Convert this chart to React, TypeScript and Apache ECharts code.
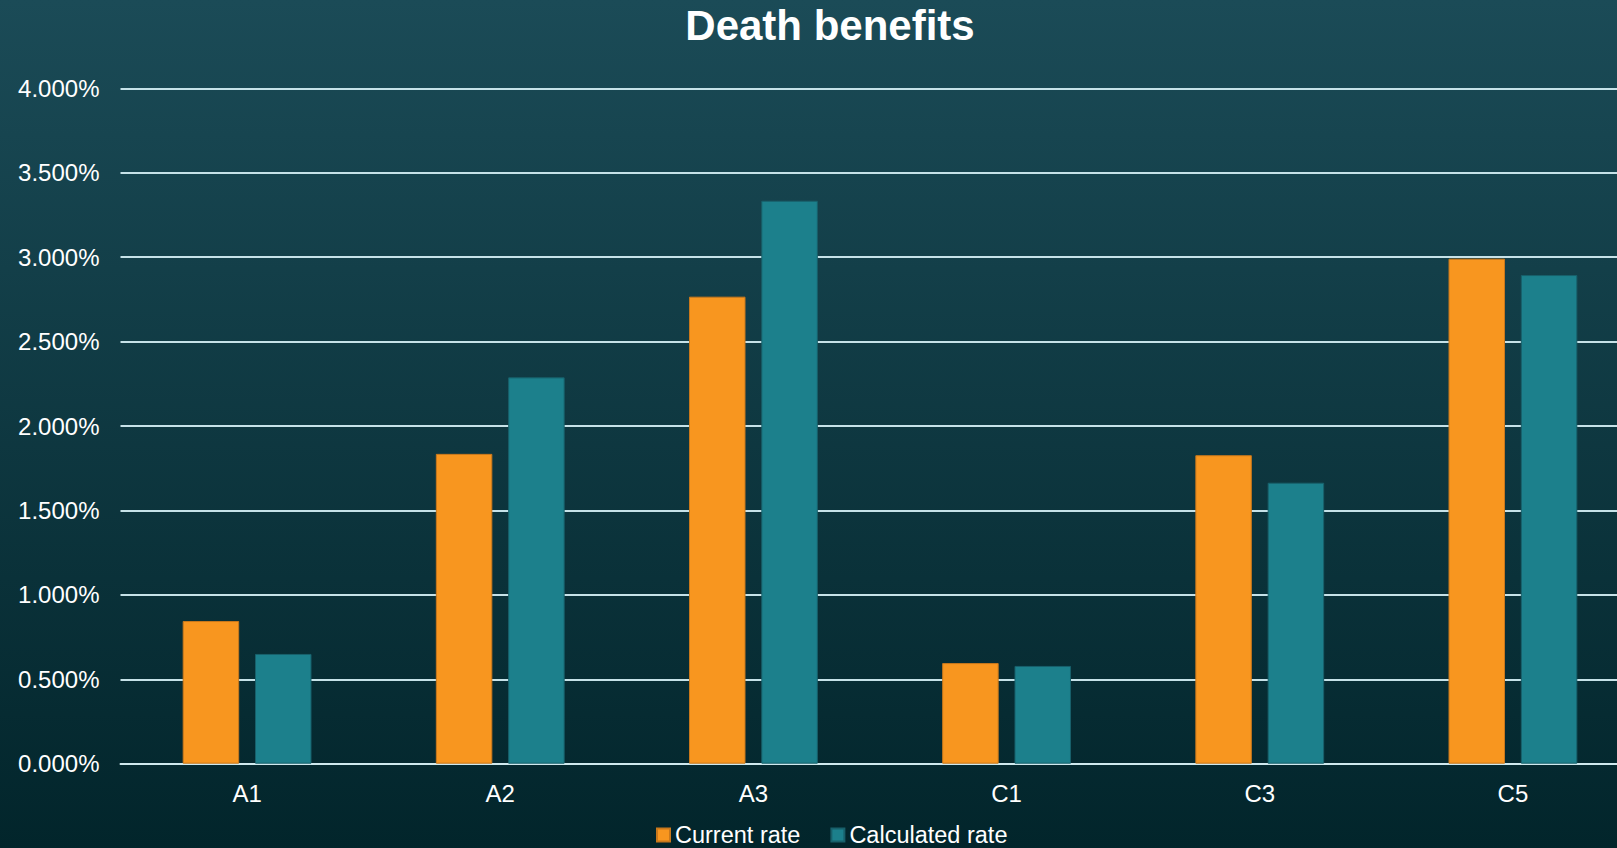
import React, { useEffect, useRef } from "react";
import * as echarts from "echarts";

const categories = ["A1", "A2", "A3", "C1", "C3", "C5"];
const currentRate = [0.845, 1.835, 2.766, 0.596, 1.827, 2.991];
const calculatedRate = [0.65, 2.288, 3.334, 0.579, 1.664, 2.894];
const seriesNames = ["Current rate", "Calculated rate"];

export default function App() {
  const ref = useRef<HTMLDivElement>(null);
  useEffect(() => {
    if (!ref.current) return;
    const chart = echarts.init(ref.current, undefined, { renderer: "svg" });
    const font = "Liberation Sans, Arial, sans-serif";
    chart.setOption({
      animation: false,
      backgroundColor: new echarts.graphic.LinearGradient(0, 0, 0, 1, [
        { offset: 0, color: "#1b4b57" },
        { offset: 1, color: "#02252b" },
      ]),
      title: {
        text: "Death benefits",
        left: 825,
        textAlign: "center",
        top: -1,
        textStyle: { color: "#ffffff", fontSize: 42, fontWeight: "bold", fontFamily: font },
      },
      legend: {
        data: seriesNames,
        left: 656,
        top: 823,
        itemWidth: 13,
        itemHeight: 13,
        itemGap: 30,
        icon: "rect",
        textStyle: { color: "#ffffff", fontSize: 23.5, fontFamily: font },
        padding: 0,
      },
      grid: { left: 120.5, top: 88.3, width: 1519, height: 675.4, containLabel: false },
      xAxis: {
        type: "category",
        data: categories,
        axisLine: { show: true, lineStyle: { color: "#cfe9ee", width: 2 } },
        axisTick: { show: false },
        axisLabel: { color: "#ffffff", fontSize: 24, fontFamily: font, margin: 18 },
      },
      yAxis: {
        type: "value",
        min: 0,
        max: 4,
        interval: 0.5,
        axisLine: { show: false },
        axisTick: { show: false },
        splitLine: { lineStyle: { color: "#c6e2e8", width: 2 } },
        axisLabel: {
          color: "#ffffff",
          fontSize: 24,
          fontFamily: font,
          margin: 21,
          formatter: (v: number) => v.toFixed(3) + "%",
        },
      },
      series: [
        {
          name: seriesNames[0],
          type: "bar",
          data: currentRate,
          barWidth: 56.5,
          barGap: "28%",
          itemStyle: { color: "#f8961f", borderColor: "#c9781c", borderWidth: 1 },
        },
        {
          name: seriesNames[1],
          type: "bar",
          data: calculatedRate,
          barWidth: 56.5,
          itemStyle: { color: "#1c808c", borderColor: "#18606b", borderWidth: 1 },
        },
      ],
    });
    return () => chart.dispose();
  }, []);
  return (
    <div
      style={{ position: "fixed", left: 0, top: 0, width: 1617, height: 848, overflow: "hidden" }}
    >
      <div ref={ref} style={{ position: "absolute", left: 0, top: 0, width: 1645, height: 848 }} />
    </div>
  );
}
